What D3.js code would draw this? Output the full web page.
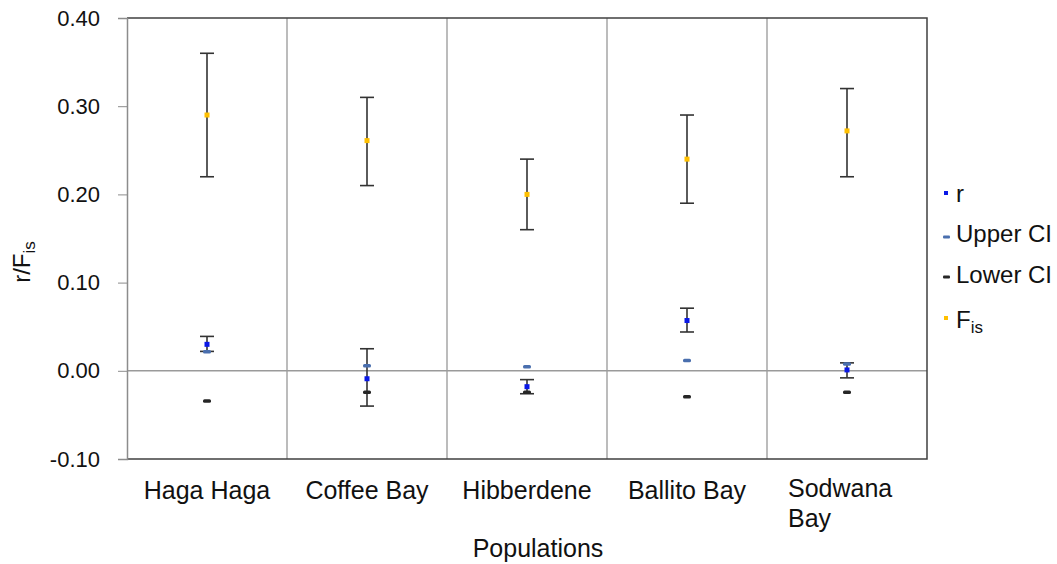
<!DOCTYPE html>
<html>
<head>
<meta charset="utf-8">
<script src="https://cdn.jsdelivr.net/npm/d3@7"></script>
<style>
  body { margin: 0; background: #fff; }
  text { font-family: "Liberation Sans", Arial, sans-serif; }
</style>
</head>
<body>
<svg id="chart" width="1057" height="564"></svg>
<script>
// data
const populations = ["Haga Haga", "Coffee Bay", "Hibberdene", "Ballito Bay", "Sodwana Bay"];
const rValues = [0.030, -0.009, -0.018, 0.057, 0.001];
const rErrHigh = [0.039, 0.025, -0.010, 0.071, 0.009];
const rErrLow = [0.022, -0.040, -0.026, 0.044, -0.008];
const upperCI = [0.022, 0.006, 0.005, 0.012, 0.008];
const lowerCI = [-0.034, -0.024, -0.024, -0.029, -0.024];
const fisValues = [0.290, 0.261, 0.200, 0.240, 0.272];
const fisErrHigh = [0.360, 0.310, 0.240, 0.290, 0.320];
const fisErrLow = [0.220, 0.210, 0.160, 0.190, 0.220];
const yTicks = [-0.1, 0, 0.1, 0.2, 0.3, 0.4];

const width = 1057, height = 564;
const margin = { top: 18, right: 130, bottom: 105, left: 127 };
const svg = d3.select("#chart");

const x = d3.scaleBand()
  .domain(populations)
  .range([margin.left, width - margin.right]);
const y = d3.scaleLinear()
  .domain([-0.1, 0.4])
  .range([height - margin.bottom, margin.top]);

const x0 = margin.left, x1 = width - margin.right;
const yTop = y(0.4), yBot = y(-0.1);

// vertical separators between populations
svg.append("g")
  .selectAll("line")
  .data(populations.slice(1))
  .join("line")
  .attr("x1", d => x(d)).attr("x2", d => x(d))
  .attr("y1", yTop).attr("y2", yBot)
  .attr("stroke", "#a6a6a6")
  .attr("stroke-width", 1.5);

// zero line
svg.append("line")
  .attr("x1", x0).attr("x2", x1)
  .attr("y1", y(0)).attr("y2", y(0))
  .attr("stroke", "#9a9a9a")
  .attr("stroke-width", 1.5);

// frame: top, right, bottom
svg.append("path")
  .attr("d", `M${x0},${yTop}H${x1}V${yBot}H${x0}`)
  .attr("fill", "none")
  .attr("stroke", "#404040")
  .attr("stroke-width", 1.5);

// y axis
const fmt = d => d3.format(".2f")(d).replace("\u2212", "-");
const yAxis = svg.append("g")
  .attr("transform", `translate(${x0},0)`)
  .call(d3.axisLeft(y).tickValues(yTicks).tickFormat(fmt).tickSize(9).tickPadding(18));
yAxis.select(".domain").attr("stroke", "#8c8c8c").attr("stroke-width", 1.5);
yAxis.selectAll(".tick line").attr("stroke", "#8c8c8c");
yAxis.selectAll(".tick text")
  .attr("font-size", 22)
  .attr("fill", "#111")
  .attr("font-family", "Liberation Sans, Arial, sans-serif");

// x labels
const cx = d => x(d) + x.bandwidth() / 2;
svg.append("g")
  .selectAll("text")
  .data(populations)
  .join("text")
  .attr("font-size", 25)
  .attr("fill", "#111")
  .each(function (d) {
    const t = d3.select(this);
    if (d === "Sodwana Bay") {
      t.attr("x", cx(d) - 59).attr("y", 497).attr("text-anchor", "start");
      t.append("tspan").attr("x", cx(d) - 59).attr("dy", 0).text("Sodwana");
      t.append("tspan").attr("x", cx(d) - 59).attr("dy", 30).text("Bay");
    } else {
      t.attr("x", cx(d)).attr("y", 499).attr("text-anchor", "middle").text(d);
    }
  });

// axis titles
svg.append("text")
  .attr("x", 538).attr("y", 557)
  .attr("text-anchor", "middle")
  .attr("font-size", 25)
  .attr("fill", "#111")
  .text("Populations");

const yt = svg.append("text")
  .attr("transform", `translate(30,262) rotate(-90)`)
  .attr("text-anchor", "middle")
  .attr("font-size", 24)
  .attr("fill", "#111");
yt.append("tspan").text("r/F");
yt.append("tspan").attr("font-size", 17).attr("dy", 5).text("is");

// error bars
function errorBars(hi, lo) {
  const g = svg.append("g").attr("stroke", "#333").attr("stroke-width", 1.6);
  populations.forEach((p, i) => {
    const c = cx(p);
    g.append("line").attr("x1", c).attr("x2", c).attr("y1", y(hi[i])).attr("y2", y(lo[i]));
    g.append("line").attr("x1", c - 7).attr("x2", c + 7).attr("y1", y(hi[i])).attr("y2", y(hi[i]));
    g.append("line").attr("x1", c - 7).attr("x2", c + 7).attr("y1", y(lo[i])).attr("y2", y(lo[i]));
  });
}
errorBars(fisErrHigh, fisErrLow);
errorBars(rErrHigh, rErrLow);

// markers
function dashes(vals, color) {
  svg.append("g").selectAll("rect")
    .data(vals)
    .join("rect")
    .attr("x", (d, i) => cx(populations[i]) - 4)
    .attr("y", d => y(d) - 1.5)
    .attr("width", 8).attr("height", 3.5)
    .attr("rx", 1.5)
    .attr("fill", color);
}
function squares(vals, color) {
  svg.append("g").selectAll("rect")
    .data(vals)
    .join("rect")
    .attr("x", (d, i) => cx(populations[i]) - 2.5)
    .attr("y", d => y(d) - 2.5)
    .attr("width", 5).attr("height", 5)
    .attr("fill", color);
}
dashes(upperCI, "#4a6fae");
dashes(lowerCI, "#262626");
squares(rValues, "#0a18e6");
squares(fisValues, "#ffc000");

// legend
const legendItems = [
  { label: "r", color: "#0a18e6", kind: "square", yPos: 202, my: 193 },
  { label: "Upper CI", color: "#4a6fae", kind: "dash", yPos: 242, my: 237 },
  { label: "Lower CI", color: "#262626", kind: "dash", yPos: 283, my: 277 },
  { label: "F", sub: "is", color: "#ffc000", kind: "square", yPos: 328, my: 318 }
];
const lg = svg.append("g");
legendItems.forEach(it => {
  if (it.kind === "square") {
    lg.append("rect").attr("x", 944).attr("y", it.my - 2).attr("width", 4).attr("height", 4).attr("fill", it.color);
  } else {
    lg.append("rect").attr("x", 943).attr("y", it.my - 1.5).attr("width", 7).attr("height", 3).attr("rx", 1).attr("fill", it.color);
  }
  const t = lg.append("text")
    .attr("x", 956).attr("y", it.yPos)
    .attr("font-size", 24)
    .attr("fill", "#111");
  t.append("tspan").text(it.label);
  if (it.sub) t.append("tspan").attr("font-size", 17).attr("dy", 5).text(it.sub);
});
</script>
</body>
</html>
